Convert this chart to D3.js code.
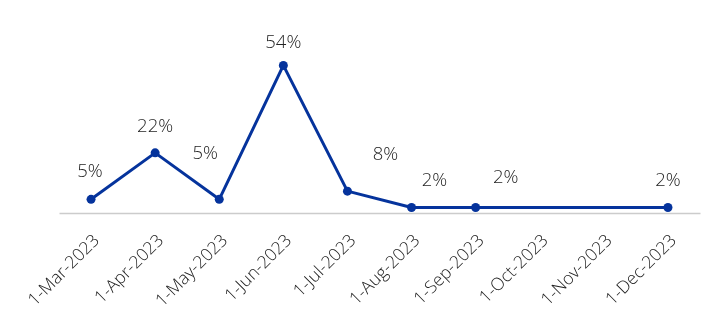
<!DOCTYPE html>
<html>
<head>
<meta charset="utf-8">
<script src="https://cdn.jsdelivr.net/npm/d3@7"></script>
<style>
  html, body { margin: 0; padding: 0; background: #fff; }
  svg { display: block; }
  text { font-family: "Open Sans", "Noto Sans", sans-serif; font-weight: 350; fill: #222222; }
  .labels { opacity: 0.995; will-change: transform; }
</style>
</head>
<body>
<svg id="chart" width="712" height="325"></svg>
<script>
// Monthly share, first day of each month
const months = ["1-Mar-2023", "1-Apr-2023", "1-May-2023", "1-Jun-2023", "1-Jul-2023",
                "1-Aug-2023", "1-Sep-2023", "1-Oct-2023", "1-Nov-2023", "1-Dec-2023"];
// null = no reading that month
const shares = [5, 22, 5, 54, 8, 2, 2, null, null, 2];

// Hand-placed nudges for the value labels (dx, dy from the marker)
const labelNudge = [[-1, -22], [0, -21], [-14, -40], [0, -17], [38, -31],
                    [23, -22], [30, -25], [0, 0], [0, 0], [0, -22]];

const svg = d3.select("#chart");
const plot = { left: 59, right: 700, bottom: 213, top: 49 };

const x = d3.scaleBand().domain(months).range([plot.left, plot.right]);
const cx = d => x(d) + x.bandwidth() / 2;
const y = d3.scaleLinear().domain([0, 60]).range([plot.bottom, plot.top]);

const points = months.map((m, i) => ({ m, v: shares[i], nudge: labelNudge[i] }))
                     .filter(d => d.v != null);

// Category axis: baseline only, rotated labels
const xAxis = d3.axisBottom(x).tickSize(0).tickSizeOuter(0);
const gx = svg.append("g").attr("class", "labels")
  .attr("transform", `translate(0,${plot.bottom})`).call(xAxis);
gx.select(".domain").attr("stroke", "#cccccc").attr("stroke-width", 1.6);
gx.selectAll(".tick text")
  .attr("font-size", 17.5)
  .attr("font-family", "\"Open Sans\", \"Noto Sans\", sans-serif")
  .attr("font-weight", 350)
  .attr("fill", "#222222")
  .attr("text-anchor", "end")
  .attr("transform", "translate(5,24) rotate(-45)")
  .attr("dy", "0.35em")
  .attr("y", 0);

// Series line (gaps bridged)
const line = d3.line().x(d => cx(d.m)).y(d => y(d.v));
svg.append("path")
  .datum(points)
  .attr("fill", "none")
  .attr("stroke", "#05339c")
  .attr("stroke-width", 3)
  .attr("stroke-linejoin", "round")
  .attr("d", line);

svg.selectAll("circle.pt")
  .data(points)
  .join("circle")
  .attr("class", "pt")
  .attr("cx", d => cx(d.m))
  .attr("cy", d => y(d.v))
  .attr("r", 4.5)
  .attr("fill", "#05339c");

svg.append("g").attr("class", "labels")
  .selectAll("text.val")
  .data(points)
  .join("text")
  .attr("class", "val")
  .attr("x", d => cx(d.m) + d.nudge[0])
  .attr("y", d => y(d.v) + d.nudge[1])
  .attr("text-anchor", "middle")
  .attr("font-size", 18.5)
  .text(d => d.v + "%");
</script>
</body>
</html>
